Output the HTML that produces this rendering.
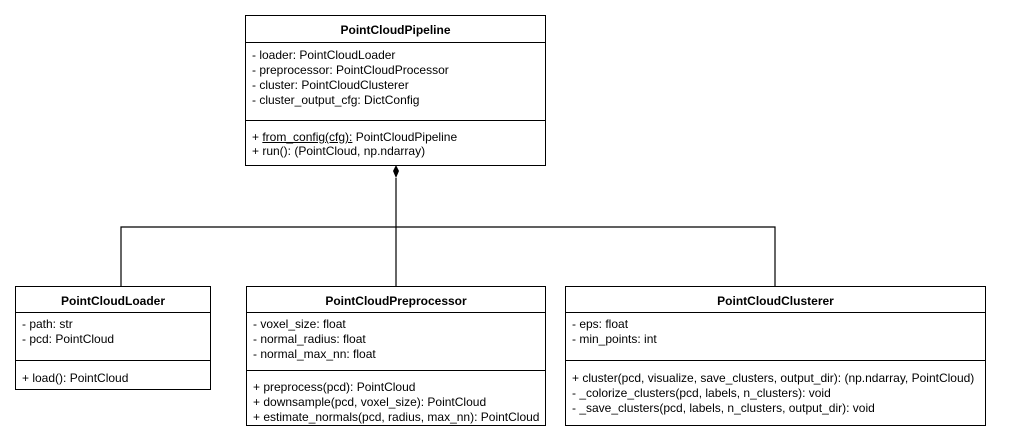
<!DOCTYPE html>
<html><head><meta charset="utf-8"><style>
body{margin:0;background:#fff;width:1009px;height:444px;overflow:hidden;position:relative;font-family:"Liberation Sans",Arial,sans-serif;font-size:12px;color:#000}
.b{position:absolute;border:1px solid #000;box-sizing:border-box;background:#fff}
.h{font-weight:bold;text-align:center;border-bottom:1px solid #000;box-sizing:border-box;padding-top:7px;font-size:12px}
.s{padding:5px 0 0 6px;line-height:15px;box-sizing:border-box;white-space:nowrap}
.m{border-top:1px solid #000}
u{text-decoration:underline}
</style></head><body>
<svg width="1009" height="444" style="position:absolute;left:0;top:0">
<g stroke="#000" stroke-width="1.2" fill="none">
<line x1="396" y1="178" x2="396" y2="286"/>
<polyline points="121,286 121,227 775,227 775,286"/>
</g>
<polygon points="396,165 399,171 396,178 393,171" fill="#000"/>
</svg>
<div class="b" style="left:245px;top:15px;width:301px;height:151px">
<div class="h" style="height:27px">PointCloudPipeline</div>
<div class="s" style="height:77px">- loader: PointCloudLoader<br>- preprocessor: PointCloudProcessor<br>- cluster: PointCloudClusterer<br>- cluster_output_cfg: DictConfig</div>
<div class="s m" style="padding-top:9px;line-height:14px">+ <u>from_config(cfg):</u> PointCloudPipeline<br>+ run(): (PointCloud, np.ndarray)</div>
</div>
<div class="b" style="left:15px;top:286px;width:196px;height:104px">
<div class="h" style="height:26px">PointCloudLoader</div>
<div class="s" style="height:47px;padding-top:4px">- path: str<br>- pcd: PointCloud</div>
<div class="s m" style="padding-top:10px">+ load(): PointCloud</div>
</div>
<div class="b" style="left:246px;top:286px;width:300px;height:140px">
<div class="h" style="height:26px">PointCloudPreprocessor</div>
<div class="s" style="height:57px;padding-top:4px">- voxel_size: float<br>- normal_radius: float<br>- normal_max_nn: float</div>
<div class="s m" style="padding-top:9px">+ preprocess(pcd): PointCloud<br>+ downsample(pcd, voxel_size): PointCloud<br>+ estimate_normals(pcd, radius, max_nn): PointCloud</div>
</div>
<div class="b" style="left:565px;top:286px;width:421px;height:140px">
<div class="h" style="height:26px">PointCloudClusterer</div>
<div class="s" style="height:47px;padding-top:4px">- eps: float<br>- min_points: int</div>
<div class="s m" style="padding-top:10px">+ cluster(pcd, visualize, save_clusters, output_dir): (np.ndarray, PointCloud)<br>- _colorize_clusters(pcd, labels, n_clusters): void<br>- _save_clusters(pcd, labels, n_clusters, output_dir): void</div>
</div>
</body></html>
